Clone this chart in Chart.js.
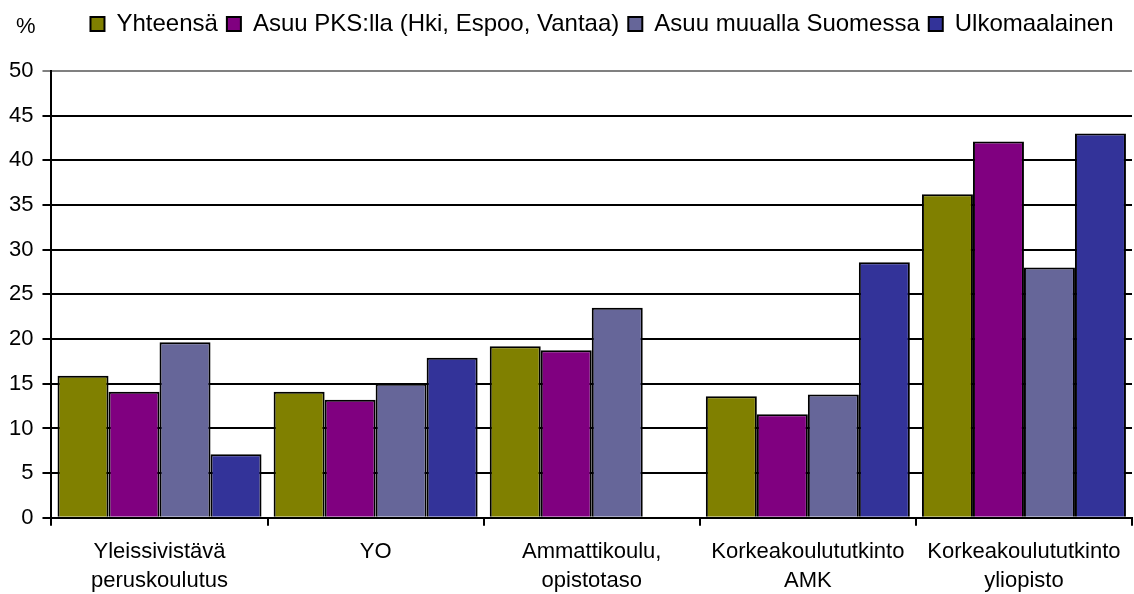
<!DOCTYPE html>
<html>
<head>
<meta charset="utf-8">
<script src="https://cdn.jsdelivr.net/npm/chart.js@4"></script>
<style>
  html, body { margin: 0; padding: 0; background: #fff; }
  #wrap { width: 1134px; height: 594px; }
</style>
</head>
<body>
<div id="wrap"><canvas id="eduChart" width="1134" height="594"></canvas></div>
<script>
// Categories (two-line labels)
const categories = [
    ['Yleissivistävä', 'peruskoulutus'],
    'YO',
    ['Ammattikoulu,', 'opistotaso'],
    ['Korkeakoulututkinto', 'AMK'],
    ['Korkeakoulututkinto', 'yliopisto']
];

// Series values (%)
const yhteensa = [15.9, 14.1, 19.2, 13.6, 36.2];
const pks = [14.1, 13.2, 18.75, 11.6, 42.1];
const muuallaSuomessa = [19.65, 15.0, 23.5, 13.8, 28.0];
const ulkomaalainen = [7.1, 17.9, null, 28.6, 43.0];

const seriesNames = ['Yhteensä', 'Asuu PKS:lla (Hki, Espoo, Vantaa)', 'Asuu muualla Suomessa', 'Ulkomaalainen'];
const seriesColors = ['#808000', '#800080', '#666699', '#333399'];

const font = 'Arial, "Liberation Sans", sans-serif';

// "%" unit label, plus legend spacing / offset tweaks
const unitLabel = {
    id: 'unitLabel',
    beforeLayout(chart) {
        const legend = chart.legend;
        if (legend && !legend._patched) {
            const fit = legend.fit;
            legend.fit = function () {
                fit.call(this);
                this.height += 25;
            };
            legend._patched = true;
        }
    },
    afterLayout(chart) {
        // move the legend row a bit to the right, leaving room for "%"
        chart.legend.left += 36;
        chart.legend.right += 36;
    },
    afterDraw(chart) {
        const c = chart.ctx;
        c.save();
        c.font = '22px ' + font;
        c.fillStyle = '#000';
        c.textBaseline = 'middle';
        c.fillText('%', 16, 27);
        c.restore();
    }
};

const ctx = document.getElementById('eduChart');
new Chart(ctx.getContext('2d'), {
    type: 'bar',
    data: {
        labels: categories,
        datasets: [yhteensa, pks, muuallaSuomessa, ulkomaalainen].map((d, i) => ({
            label: seriesNames[i],
            data: d,
            backgroundColor: seriesColors[i],
            borderColor: '#000',
            borderWidth: 2,
            categoryPercentage: 0.944,
            barPercentage: 1
        }))
    },
    options: {
        responsive: false,
        animation: false,
        layout: {
            padding: { left: 0, right: 2, top: 3, bottom: -13 }
        },
        plugins: {
            legend: {
                position: 'top',
                labels: {
                    color: '#000',
                    font: { family: font, size: 24 },
                    boxWidth: 14,
                    boxHeight: 14,
                    padding: 9
                }
            },
            tooltip: { enabled: false }
        },
        scales: {
            y: {
                min: 0,
                max: 50,
                ticks: {
                    stepSize: 5,
                    color: '#000',
                    font: { family: font, size: 22 },
                    padding: 9
                },
                grid: {
                    color: (c) => (c.tick && c.tick.value === 50 ? '#808080' : '#000'),
                    lineWidth: 2,
                    tickLength: 9
                },
                border: { color: '#000', width: 2 }
            },
            x: {
                ticks: {
                    color: '#000',
                    font: { family: font, size: 22, lineHeight: 1.3 },
                    padding: 12,
                    maxRotation: 0
                },
                grid: {
                    drawOnChartArea: false,
                    color: '#000',
                    lineWidth: 2,
                    tickLength: 8
                },
                border: { color: '#000', width: 2 }
            }
        }
    },
    plugins: [unitLabel]
});
</script>
</body>
</html>
